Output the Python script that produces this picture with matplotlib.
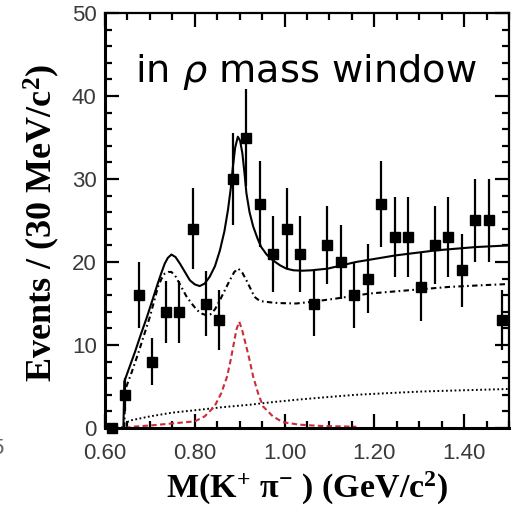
import matplotlib
matplotlib.use("Agg")
import matplotlib.pyplot as plt
from matplotlib.ticker import MultipleLocator, FormatStrFormatter

# ---- data: K+ pi- invariant mass, 30 MeV bins ----
mass_centers = [0.615, 0.645, 0.675, 0.705, 0.735, 0.765, 0.795, 0.825, 0.855, 0.885,
                0.915, 0.945, 0.975, 1.005, 1.035, 1.065, 1.095, 1.125, 1.155, 1.185,
                1.215, 1.245, 1.275, 1.305, 1.335, 1.365, 1.395, 1.425, 1.455, 1.485]
events = [0, 4, 16, 8, 14, 14, 24, 15, 13, 30,
          35, 27, 21, 24, 21, 15, 22, 20, 16, 18,
          27, 23, 23, 17, 22, 23, 19, 25, 25, 13]
event_errors = [0.0, 2.0, 4.0, 2.8, 3.7, 3.7, 4.9, 3.9, 3.6, 5.5,
                5.9, 5.2, 4.6, 4.9, 4.6, 3.9, 4.7, 4.5, 4.0, 4.2,
                5.2, 4.8, 4.8, 4.1, 4.7, 4.8, 4.4, 5.0, 5.0, 3.6]

# total fit
fit_mass = [0.641, 0.643, 0.655, 0.667, 0.680, 0.693, 0.705, 0.715, 0.725, 0.733,
            0.740, 0.748, 0.757, 0.767, 0.778, 0.789, 0.800, 0.811, 0.822, 0.833,
            0.845, 0.856, 0.866, 0.874, 0.880, 0.885, 0.890, 0.896, 0.901, 0.906,
            0.911, 0.915, 0.922, 0.930, 0.940, 0.948, 0.960, 0.974, 0.990, 1.004,
            1.020, 1.040, 1.060, 1.096, 1.159, 1.248, 1.337, 1.426, 1.500]
fit_total = [0.0, 5.6, 7.4, 9.2, 11.3, 13.3, 15.3, 17.0, 18.6, 19.8,
             20.5, 20.9, 20.6, 19.8, 18.8, 17.8, 17.3, 17.1, 17.4, 18.2,
             19.5, 21.4, 23.7, 26.3, 28.8, 31.5, 33.8, 35.1, 34.6, 33.1,
             30.6, 28.3, 26.0, 24.3, 22.8, 21.8, 20.9, 20.2, 19.6, 19.2,
             19.0, 18.95, 19.0, 19.2, 20.0, 20.8, 21.4, 21.8, 22.0]

# fit without the K*(892) component
bkg_mass = [0.643, 0.645, 0.660, 0.674, 0.687, 0.700, 0.710, 0.718, 0.726, 0.733,
            0.741, 0.748, 0.758, 0.770, 0.781, 0.793, 0.805, 0.815, 0.825, 0.835,
            0.845, 0.856, 0.867, 0.878, 0.888, 0.897, 0.906, 0.915, 0.925, 0.933,
            0.945, 0.959, 0.975, 0.989, 1.026, 1.060, 1.115, 1.189, 1.278, 1.367,
            1.440, 1.500]
bkg_events = [0.0, 4.6, 6.8, 9.0, 11.2, 13.4, 15.4, 17.0, 18.0, 18.6,
              18.8, 18.8, 18.2, 17.0, 15.9, 15.0, 14.2, 13.8, 13.6, 13.7,
              14.3, 15.4, 16.6, 17.8, 18.8, 19.2, 18.7, 17.8, 16.7, 15.8,
              15.3, 15.2, 15.1, 15.05, 15.0, 15.2, 15.6, 16.2, 16.6, 17.0,
              17.2, 17.35]

# K*(892) signal component
kst_mass = [0.645, 0.662, 0.700, 0.740, 0.780, 0.800, 0.822, 0.844, 0.859, 0.872,
            0.880, 0.887, 0.893, 0.899, 0.905, 0.913, 0.922, 0.930, 0.941, 0.952,
            0.974, 0.996, 1.033, 1.080, 1.160]
kst_events = [0.0, 0.16, 0.3, 0.5, 0.7, 0.8, 1.4, 2.6, 4.2, 6.2,
              8.2, 10.2, 11.9, 12.8, 11.9, 10.2, 8.2, 6.2, 4.2, 2.6,
              1.4, 0.7, 0.4, 0.25, 0.15]

# non-resonant component
nr_mass = [0.637, 0.644, 0.660, 0.700, 0.750, 0.811, 0.860, 0.922, 0.970, 1.026,
           1.090, 1.159, 1.230, 1.307, 1.400, 1.500]
nr_events = [0.0, 0.6, 0.95, 1.4, 1.85, 2.2, 2.5, 2.8, 3.1, 3.4,
             3.7, 4.0, 4.2, 4.4, 4.55, 4.7]

# ---- figure ----
plt.rcParams["mathtext.fontset"] = "custom"
plt.rcParams["mathtext.rm"] = "Liberation Serif:bold"
plt.rcParams["mathtext.it"] = "Liberation Serif:bold"
plt.rcParams["mathtext.bf"] = "Liberation Serif:bold"

fig = plt.figure(figsize=(5.16, 5.08), dpi=100)
ax = fig.add_axes([105 / 516, 80 / 508, 404 / 516, 415 / 508])

ax.plot(nr_mass, nr_events, color="black", lw=1.4, linestyle=(0, (0.9, 1.3)), zorder=2)
ax.plot(kst_mass, kst_events, color="#cc2b3b", lw=1.5, linestyle=(0, (2.6, 1.6)), zorder=2)
ax.plot(bkg_mass, bkg_events, color="black", lw=1.5, linestyle=(0, (2.6, 1.6, 0.8, 1.6)), zorder=2)
ax.plot(fit_mass, fit_total, color="black", lw=1.5, zorder=3)

ax.errorbar(mass_centers, events, yerr=event_errors, fmt="s", color="black",
            markersize=7.2, elinewidth=1.6, capsize=0, zorder=4, clip_on=False)

ax.set_xlim(0.6, 1.5)
ax.set_ylim(0, 50)
ax.xaxis.set_major_locator(MultipleLocator(0.2))
ax.xaxis.set_minor_locator(MultipleLocator(0.05))
ax.xaxis.set_major_formatter(FormatStrFormatter("%.2f"))
ax.yaxis.set_major_locator(MultipleLocator(10))
ax.yaxis.set_minor_locator(MultipleLocator(2))

ax.tick_params(which="both", direction="in", top=True, right=True,
               colors="black", labelcolor="#3a3a3a", width=1.6)
ax.tick_params(which="major", length=10)
ax.tick_params(which="minor", length=5)
ax.tick_params(axis="x", which="major", pad=11)
ax.tick_params(axis="y", which="major", pad=6)
for lab in ax.get_xticklabels() + ax.get_yticklabels():
    lab.set_fontfamily("Liberation Sans")
    lab.set_fontsize(16)

for side in ("left", "bottom"):
    ax.spines[side].set_linewidth(2.2)
for side in ("top", "right"):
    ax.spines[side].set_linewidth(1.6)

ax.set_xlabel(r"M(K$^{+}$ $\pi^{-}$ ) (GeV/c$^{2}$)", fontsize=24.5,
              fontfamily="Liberation Serif", fontweight="bold", va="baseline")
ax.xaxis.set_label_coords(0.501, -0.168)
ax.set_ylabel(r"Events / (30 MeV/c$^{2}$)", fontsize=26,
              fontfamily="Liberation Serif", fontweight="bold", va="baseline")
ax.yaxis.set_label_coords(-0.131, 0.495)

fig.text(135 / 516, 1 - 82 / 508, r"in $\rho$ mass window", fontsize=27.5,
         fontfamily="DejaVu Sans", math_fontfamily="dejavusans",
         ha="left", va="baseline", color="black")

fig.text(-0.018, 1 - 449 / 508, "5", fontsize=16, fontfamily="Liberation Sans",
         color="#666666", ha="left", va="center")

fig.savefig("out.png", dpi=100)
